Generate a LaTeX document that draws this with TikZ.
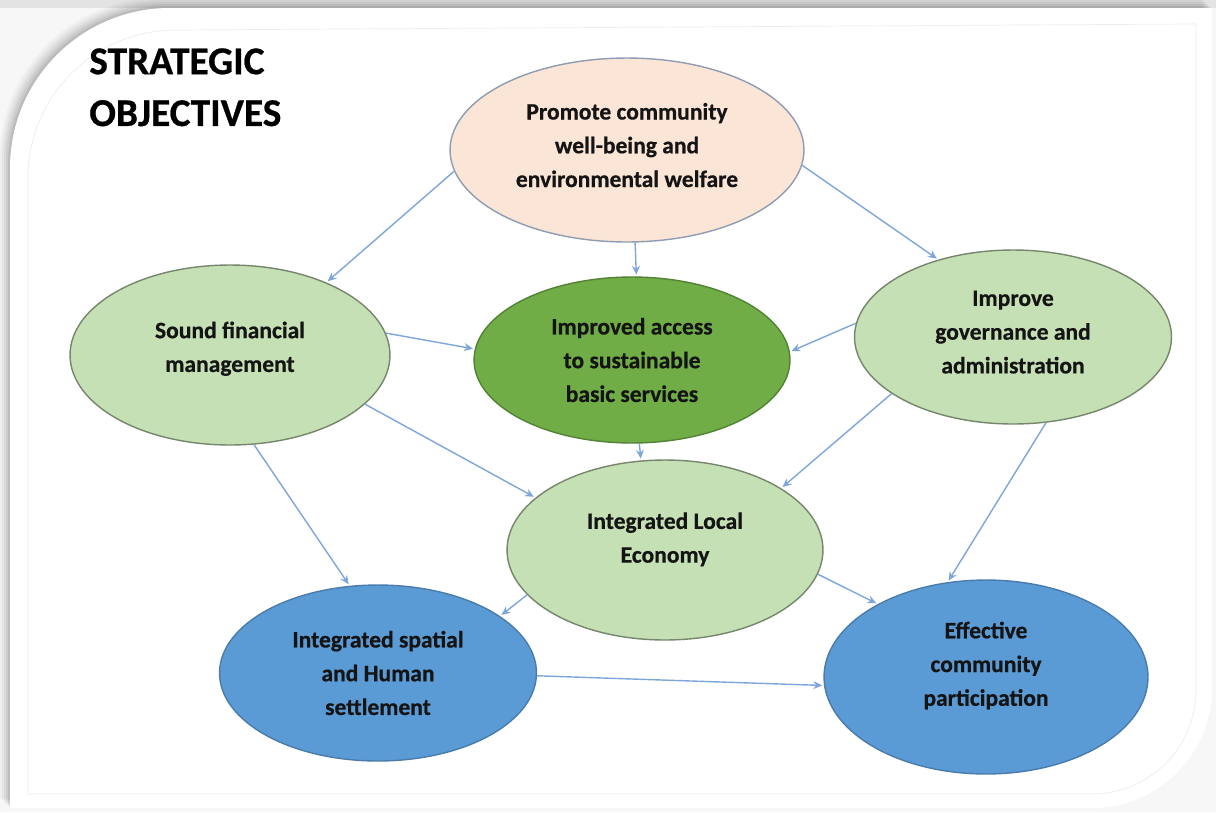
\documentclass[tikz,border=0pt]{standalone}
\usepackage{fontspec}
\setmainfont{Carlito}
\newfontfamily\heavyfont{Carlito}[BoldFeatures={FakeBold=0.6}]
\usetikzlibrary{shapes.geometric,arrows.meta}
\definecolor{peach}{HTML}{FBE5D6}
\definecolor{peachline}{HTML}{8E9DB3}
\definecolor{lgreen}{HTML}{C5E0B4}
\definecolor{dgreen}{HTML}{70AD47}
\definecolor{mblue}{HTML}{5B9BD5}
\definecolor{arrowc}{HTML}{7EA6DA}
\begin{document}
\begin{tikzpicture}[x=0.02cm,y=0.02cm,
  obj/.style={ellipse, inner sep=0pt, align=center,
    font=\heavyfont\bfseries\fontsize{13.4}{19.2}\selectfont, text=black!92, line width=0.8pt},
  peachobj/.style={obj, fill=peach, draw=peachline},
  lgobj/.style={obj, fill=lgreen, draw=lgreen!60!black},
  dgobj/.style={obj, fill=dgreen, draw=dgreen!75!black},
  blobj/.style={obj, fill=mblue, draw=mblue!80!black},
  conn/.style={draw=arrowc, line width=0.8pt, -{Stealth[length=5pt,width=4.5pt]}, shorten >=1pt},
  titletext/.style={font=\heavyfont\bfseries\fontsize{22.4}{29.5}\selectfont, align=left, inner sep=0pt, anchor=north west}
]
\useasboundingbox (0,0) rectangle (1216,-812);
% background and frame
\fill[gray!6] (0,0) rectangle (1216,-812);
\fill[gray!22] (0,0) rectangle (1216,-8);
\foreach \i/\op in {10/0.03,8/0.04,6/0.05,4/0.06,2/0.08}{
  \fill[black,opacity=\op] (10-\i,-808+\i) -- (10-\i,-168+\i) arc[start angle=180,end angle=90,radius=160] -- (1212-\i,-8+\i) -- (1212-\i,-688+\i) arc[start angle=0,end angle=-90,radius=120] -- cycle;
}
\fill[white] (10,-808) -- (10,-168) arc[start angle=180,end angle=90,radius=160] -- (1212,-8) -- (1212,-688) arc[start angle=0,end angle=-90,radius=120] -- cycle;
\draw[gray!14, line width=0.4pt] (28,-794) -- (28,-178) arc[start angle=180,end angle=90,radius=148] -- (1196,-24) -- (1196,-690) arc[start angle=0,end angle=-90,radius=104] -- cycle;
% title
\node[titletext] (title) at (89,-48) {STRATEGIC\\OBJECTIVES};
% objectives
\node[peachobj, minimum width=7.08cm, minimum height=3.68cm, text depth=0.2cm] (prom) at (627,-150) {Promote community\\well-being and\\environmental welfare};
\node[lgobj, minimum width=6.4cm, minimum height=3.6cm, text depth=0.33cm] (sound) at (230,-355) {Sound financial\\management};
\node[dgobj, minimum width=6.32cm, minimum height=3.32cm] (impr) at (632,-360) {Improved access\\to sustainable\\basic services};
\node[lgobj, minimum width=6.34cm, minimum height=3.48cm, text depth=0.2cm] (gov) at (1013,-337) {Improve\\governance and\\administration};
\node[lgobj, minimum width=6.32cm, minimum height=3.6cm, text depth=0.5cm] (ile) at (665,-550) {Integrated Local\\Economy};
\node[blobj, minimum width=6.34cm, minimum height=3.52cm] (spat) at (378,-673) {Integrated spatial\\and Human\\settlement};
\node[blobj, minimum width=6.48cm, minimum height=3.88cm, text depth=0.53cm] (eff) at (986,-677) {Effective\\community\\participation};
% connectors
\draw[conn] (prom.187) -- (sound.37);
\draw[conn] (prom.275) -- (impr.87);
\draw[conn] (prom.355) -- (gov.134);
\draw[conn] (sound.8) -- (impr.176);
\draw[conn] (gov.175) -- (impr.3);
\draw[conn] (impr.275) -- (ile.105);
\draw[conn] (sound.340) -- (ile.158);
\draw[conn] (gov.205) -- (ile.28);
\draw[conn] (sound.285) -- (spat.108);
\draw[conn] (gov.291) -- (eff.112);
\draw[conn] (ile.198) -- (spat.25);
\draw[conn] (ile.351) -- (eff.146);
\draw[conn] (spat.359) -- (eff.183);
\end{tikzpicture}
\end{document}
